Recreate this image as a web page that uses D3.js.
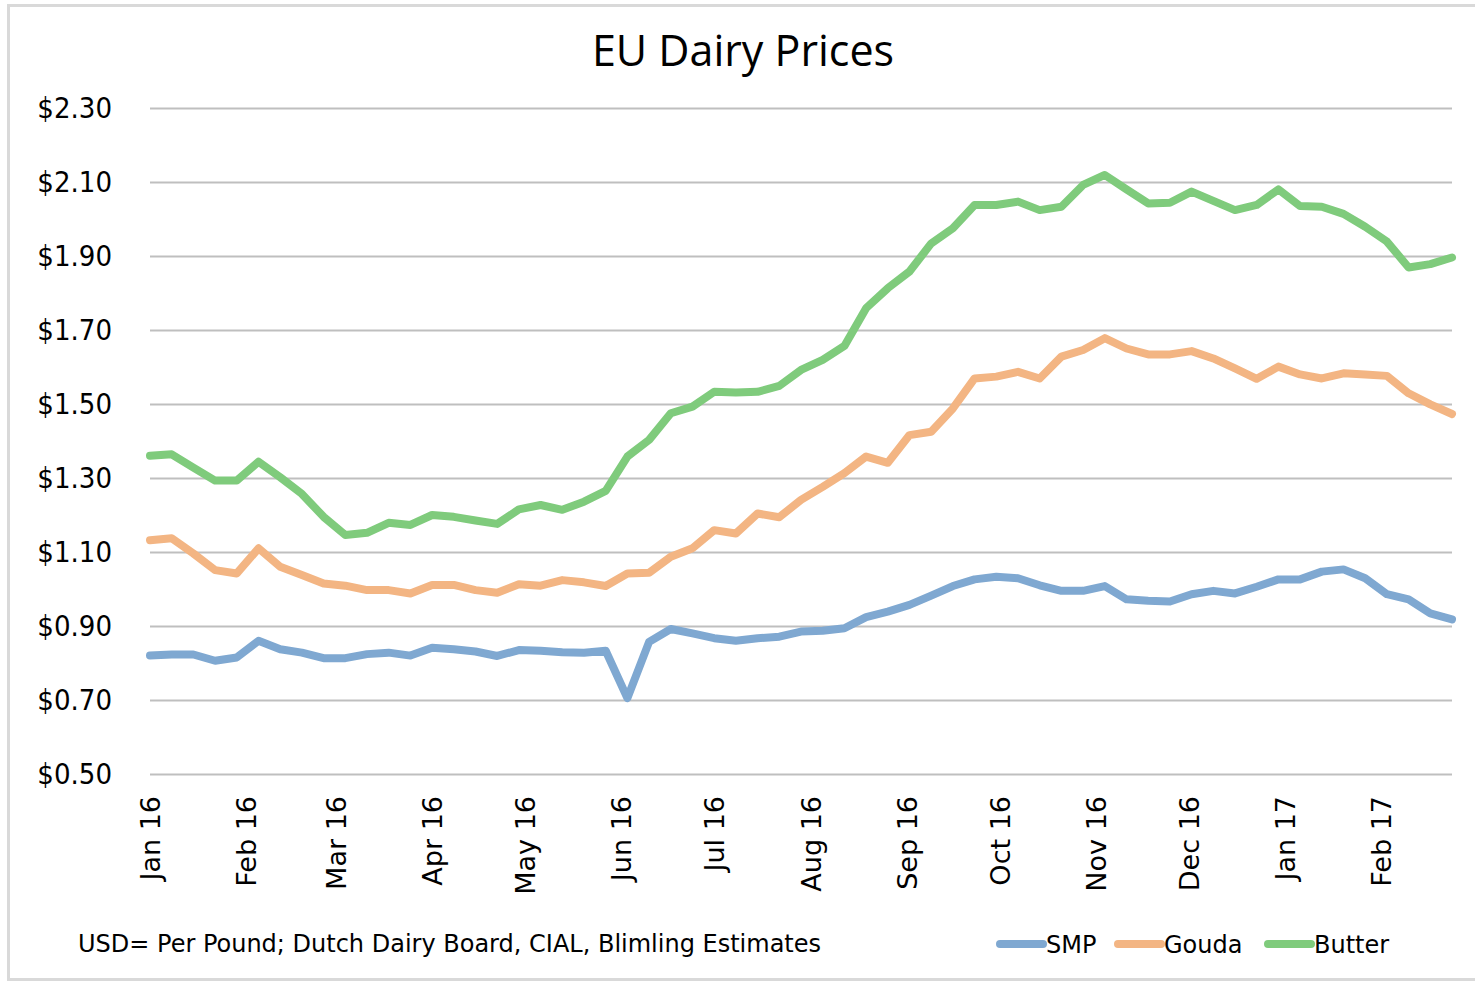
<!DOCTYPE html>
<html>
<head>
<meta charset="utf-8">
<script src="https://cdn.jsdelivr.net/npm/d3@7"></script>
<style>
  body { margin: 0; background: #fff; }
  svg { display: block; }
</style>
</head>
<body>
<script>
const width = 1475;
const height = 982;

// weekly prices, USD per pound, first week of Jan 2016 to late Feb 2017
const startDate = new Date(2016, 0, 1);
const seriesNames = ["SMP", "Gouda", "Butter"];
const smp = [
    0.820, 0.823, 0.823, 0.806, 0.815, 0.860, 0.837, 0.828, 0.813, 0.813,
    0.824, 0.828, 0.820, 0.841, 0.837, 0.831, 0.819, 0.835, 0.833, 0.829,
    0.828, 0.833, 0.705, 0.857, 0.892, 0.880, 0.867, 0.860, 0.867, 0.871,
    0.885, 0.887, 0.894, 0.924, 0.939, 0.957, 0.982, 1.008, 1.026, 1.033,
    1.029, 1.010, 0.995, 0.995, 1.008, 0.972, 0.968, 0.966, 0.986, 0.995,
    0.988, 1.006, 1.026, 1.026, 1.047, 1.053, 1.029, 0.986, 0.972, 0.934,
    0.918
];
const gouda = [
    1.132, 1.137, 1.096, 1.051, 1.042, 1.110, 1.060, 1.038, 1.015, 1.009,
    0.997, 0.997, 0.988, 1.011, 1.011, 0.997, 0.990, 1.013, 1.009, 1.024,
    1.018, 1.008, 1.042, 1.044, 1.087, 1.110, 1.159, 1.150, 1.204, 1.194,
    1.241, 1.276, 1.313, 1.358, 1.341, 1.416, 1.425, 1.488, 1.569, 1.574,
    1.587, 1.569, 1.628, 1.646, 1.678, 1.650, 1.634, 1.634, 1.643, 1.623,
    1.596, 1.568, 1.601, 1.580, 1.569, 1.583, 1.580, 1.576, 1.529, 1.499,
    1.473
];
const butter = [
    1.360, 1.364, 1.328, 1.293, 1.293, 1.344, 1.302, 1.257, 1.195, 1.146,
    1.152, 1.179, 1.173, 1.200, 1.195, 1.185, 1.176, 1.215, 1.227, 1.214,
    1.236, 1.265, 1.358, 1.403, 1.475, 1.493, 1.533, 1.531, 1.533, 1.549,
    1.592, 1.619, 1.657, 1.759, 1.813, 1.858, 1.934, 1.975, 2.038, 2.038,
    2.047, 2.024, 2.033, 2.092, 2.119, 2.080, 2.042, 2.044, 2.074, 2.049,
    2.024, 2.038, 2.080, 2.035, 2.033, 2.014, 1.979, 1.939, 1.869, 1.878,
    1.896
];
const yTicks = [0.5, 0.7, 0.9, 1.1, 1.3, 1.5, 1.7, 1.9, 2.1, 2.3];

const colors = ["#7fa8d1", "#f3b583", "#7fcb7c"];
const condensed = "'DejaVu Sans Condensed', 'DejaVu Sans', sans-serif";
const plain = "'DejaVu Sans', sans-serif";

let dates = smp.map((d, i) => d3.timeDay.offset(startDate, i * 7));
let series = [smp, gouda, butter].map((vals, k) => ({
    name: seriesNames[k],
    color: colors[k],
    values: vals.map((v, i) => ({date: dates[i], value: v}))
}));

let x = d3.scaleTime()
    .domain(d3.extent(dates))
    .range([150, 1452]);

let y = d3.scaleLinear()
    .domain([0.5, 2.3])
    .range([774, 108]);

let svg = d3.select("body")
    .append("svg")
    .attr("width", width)
    .attr("height", height);

// outer frame
svg.append("rect")
    .attr("x", 8.5)
    .attr("y", 5.5)
    .attr("width", 1490)
    .attr("height", 974)
    .attr("fill", "none")
    .attr("stroke", "#d9d9d9")
    .attr("stroke-width", 3);

svg.append("text")
    .attr("x", 743)
    .attr("y", 66)
    .attr("text-anchor", "middle")
    .attr("font-family", "'Open Sans', sans-serif")
    .attr("font-size", 43)
    .attr("fill", "#000")
    .text("EU Dairy Prices");

// gridlines + y labels
let yAxis = svg.append("g")
    .attr("transform", "translate(150,0)")
    .call(d3.axisLeft(y)
        .tickValues(yTicks)
        .tickSize(-(1452 - 150))
        .tickPadding(38)
        .tickFormat((d) => "$" + d3.format(".2f")(d)));
yAxis.select(".domain").remove();
yAxis.selectAll(".tick line")
    .attr("stroke", "#bfbfbf")
    .attr("stroke-width", 2);
yAxis.selectAll(".tick text")
    .attr("font-family", condensed)
    .attr("font-size", 29)
    .attr("fill", "#000");

// x labels, one per month
let months = d3.timeMonth.range(startDate, d3.timeDay.offset(dates[dates.length - 1], 1));
let xAxis = svg.append("g")
    .attr("transform", "translate(0,774)")
    .call(d3.axisBottom(x)
        .tickValues(months)
        .tickSize(0)
        .tickFormat(d3.timeFormat("%b %y")));
xAxis.select(".domain").remove();
xAxis.selectAll(".tick text")
    .attr("font-family", plain)
    .attr("font-size", 27)
    .attr("fill", "#000")
    .attr("text-anchor", "end")
    .attr("transform", "rotate(-90)")
    .attr("x", -22)
    .attr("y", 0)
    .attr("dy", "0.36em");

let line = d3.line()
    .x((d) => x(d.date))
    .y((d) => y(d.value));

svg.append("g")
    .selectAll("path")
    .data(series)
    .enter()
    .append("path")
    .attr("d", (d) => line(d.values))
    .attr("fill", "none")
    .attr("stroke", (d) => d.color)
    .attr("stroke-width", 8)
    .attr("stroke-linejoin", "round")
    .attr("stroke-linecap", "round");

// source note
svg.append("text")
    .attr("x", 78)
    .attr("y", 952)
    .attr("font-family", plain)
    .attr("font-size", 24)
    .attr("fill", "#000")
    .text("USD= Per Pound; Dutch Dairy Board, CIAL, Blimling Estimates");

// legend
let legendX = [996, 1114, 1264];
let legend = svg.append("g")
    .selectAll("g")
    .data(series)
    .enter()
    .append("g")
    .attr("transform", (d, i) => "translate(" + legendX[i] + ",944)");
legend.append("line")
    .attr("x1", 4)
    .attr("x2", 47)
    .attr("stroke", (d) => d.color)
    .attr("stroke-width", 8)
    .attr("stroke-linecap", "round");
legend.append("text")
    .attr("x", 50)
    .attr("y", 9)
    .attr("font-family", plain)
    .attr("font-size", 24)
    .attr("fill", "#000")
    .text((d) => d.name);
</script>
</body>
</html>
